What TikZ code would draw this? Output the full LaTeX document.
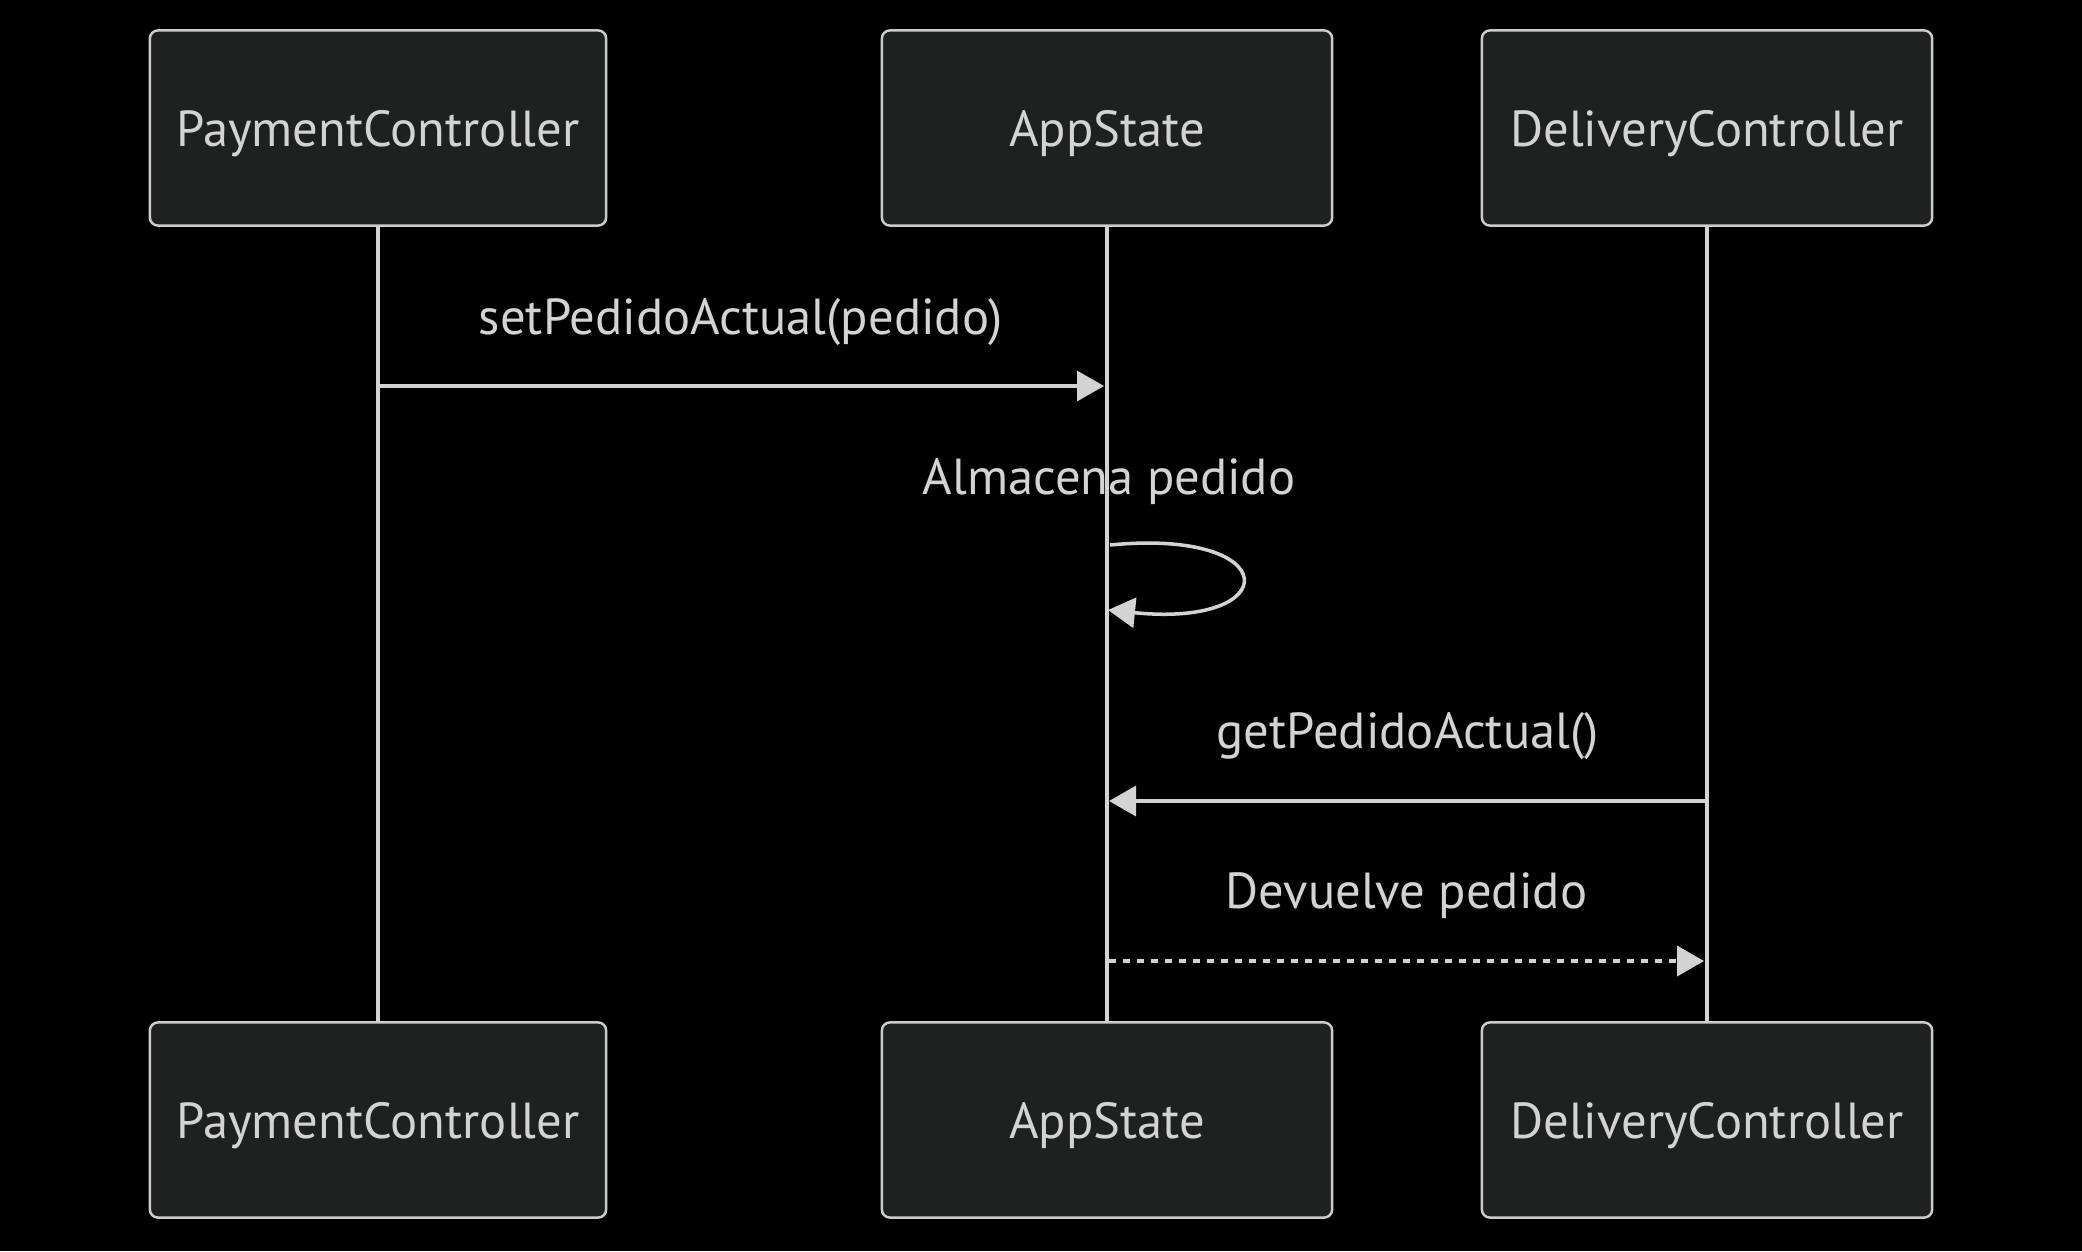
\documentclass[tikz,border=0pt]{standalone}
\usepackage{fontspec}
\setmainfont{PT Sans}
\usetikzlibrary{arrows.meta,positioning,calc}
\definecolor{ActorFill}{HTML}{1F2020}
\definecolor{ActorLine}{HTML}{CCCCCC}
\definecolor{LabelGrey}{HTML}{D3D3D3}
\definecolor{WireGrey}{HTML}{D3D3D3}

\begin{document}
\begin{tikzpicture}[
  x=0.01cm, y=-0.01cm, % one unit per pixel of the reference
  actor/.style={draw=ActorLine, line width=0.7pt, rounded corners=0.08cm, fill=ActorFill,
    text=LabelGrey, minimum width=4.5cm, minimum height=1.95cm, inner sep=0pt,
    text depth=0pt, font=\fontsize{14.4}{17}\selectfont},
  lifeline/.style={draw=WireGrey, line width=1.4pt},
  msg/.style={-{Triangle[length=0.27cm,width=0.3cm]}, line width=1pt, draw=WireGrey},
  reply/.style={msg, line width=1.1pt, dash pattern=on 0.07cm off 0.07cm},
  msglabel/.style={text=LabelGrey, font=\fontsize{14.4}{17}\selectfont, inner sep=0pt,
    text depth=0pt}
]

% --- Canvas ---
\fill[black] (0,0) rectangle (2082,1251);
\useasboundingbox (0,0) rectangle (2082,1251);

% --- Actors (top row) ---
\node[actor, minimum width=4.56cm] (payTop) at (378,128) {PaymentController};
\node[actor] (appTop) at (1107,128) {AppState};
\node[actor] (delTop) at (1707,128) {DeliveryController};

% --- Actors (bottom row) ---
\node[actor, minimum width=4.56cm] (payBot) at (378,1120) {PaymentController};
\node[actor] (appBot) at (1107,1120) {AppState};
\node[actor] (delBot) at (1707,1120) {DeliveryController};

% --- Lifelines ---
\draw[lifeline] (payTop) -- (payBot);
\draw[lifeline] (appTop) -- (appBot);
\draw[lifeline] (delTop) -- (delBot);

% --- Message end points on the lifelines ---
\coordinate (setFrom) at (378,386);
\coordinate (setTo) at (1104,386);
\coordinate (loopFrom) at (1110,545);
\coordinate (loopTo) at (1108,610);
\coordinate (getFrom) at (1706,801);
\coordinate (getTo) at (1109,801);
\coordinate (retFrom) at (1109,961);
\coordinate (retTo) at (1704,961);

% --- Messages ---
\node[msglabel] (setLabel) at ($(setFrom)!0.5!(setTo)+(0,-70)$) {setPedidoActual(pedido)};
\draw[msg] (setFrom) -- (setTo);

\node[msglabel] (storeLabel) at (1109,476) {Almacena pedido};
\draw[msg] (loopFrom) .. controls (1285,528) and (1285,628) .. (loopTo);

\node[msglabel] (getLabel) at ($(getFrom)!0.5!(getTo)+(0,-71)$) {getPedidoActual()};
\draw[msg] (getFrom) -- (getTo);

\node[msglabel] (retLabel) at ($(retFrom)!0.5!(retTo)+(0,-70)$) {Devuelve pedido};
\draw[reply] (retFrom) -- (retTo);

\end{tikzpicture}
\end{document}
